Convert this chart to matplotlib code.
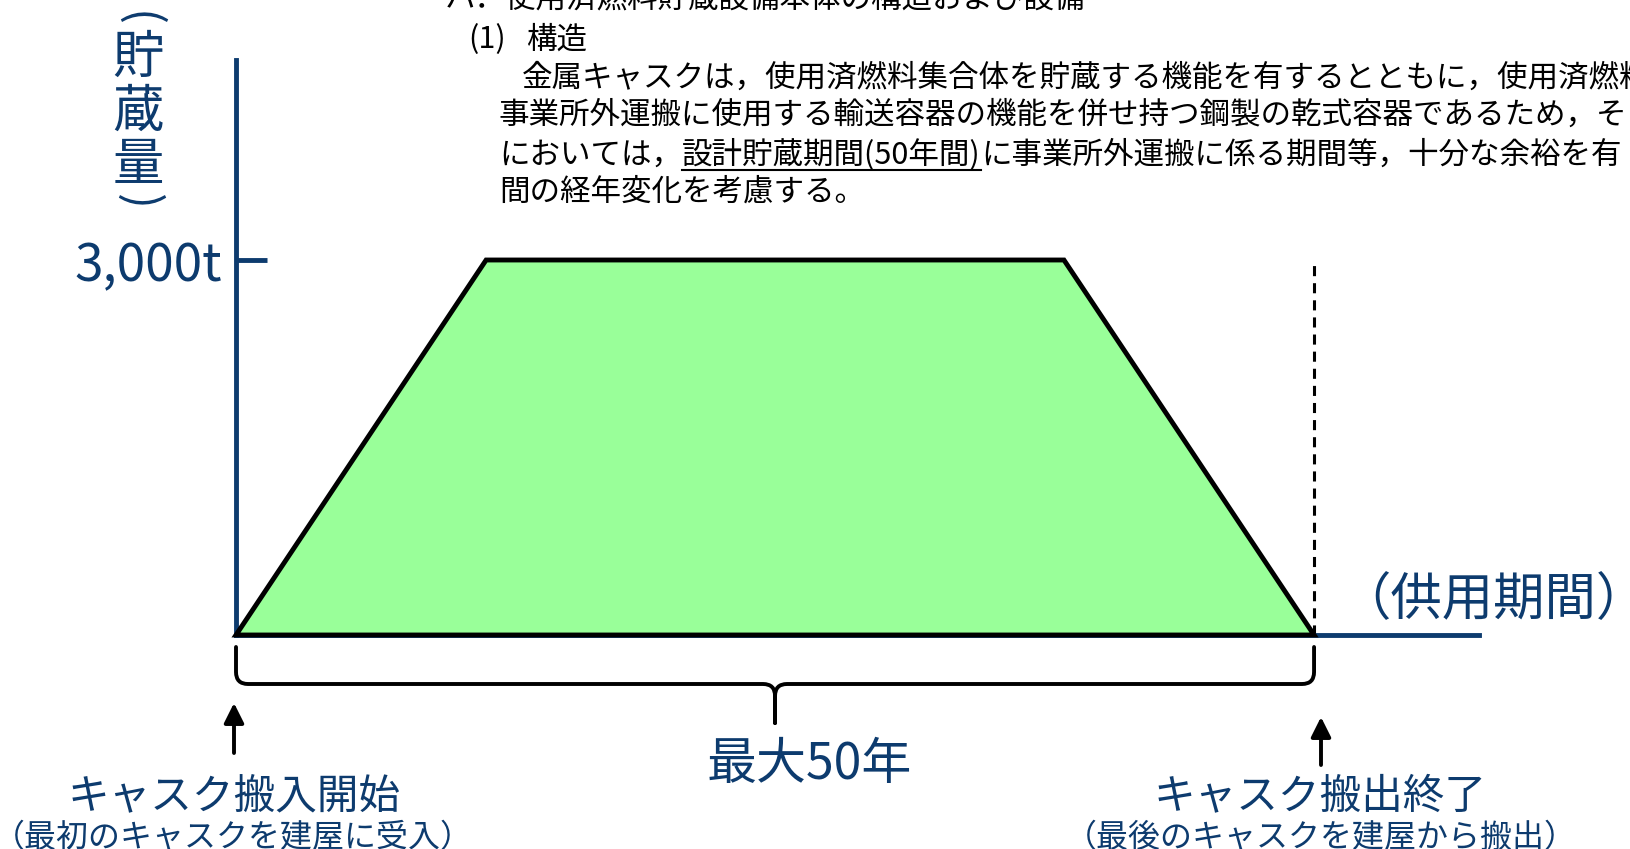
import matplotlib.pyplot as plt
from matplotlib.path import Path
from matplotlib.patches import PathPatch

plt.rcParams['font.family'] = ['Noto Sans CJK JP', 'DejaVu Sans']

# 貯蔵量の推移（概念図）: 年 と 貯蔵量(t)
years = [0, 11.6, 38.4, 50]
storage = [0, 3000, 3000, 0]
ytick_vals = [3000]
ytick_labels = ['3,000t']
x_end = 57.65      # 供用期間の矢印線の終わり
y_top = 4600

ylabel_chars = ['(', '貯', '蔵', '量', ')']
para_lines = [
    'ハ．使用済燃料貯蔵設備本体の構造および設備',
    '(1)',
    '構造',
    '金属キャスクは，使用済燃料集合体を貯蔵する機能を有するとともに，使用済燃料集',
    '事業所外運搬に使用する輸送容器の機能を併せ持つ鋼製の乾式容器であるため，そ',
]
para_line5 = ['においては，', '設計貯蔵期間(50年間)', 'に事業所外運搬に係る期間等，十分な余裕を有']
para_line6 = '間の経年変化を考慮する。'

navy = '#0d3b6e'
green = '#99ff99'

W, H = 1631, 849
fig = plt.figure(figsize=(W / 100, H / 100), dpi=100)
fig.patch.set_facecolor('white')

# メインの軸
ax = fig.add_axes([236 / W, (H - 635) / H, (1479 - 236) / W, (635 - 60) / H])
ax.set_xlim(0, x_end)
ax.set_ylim(0, y_top)
ax.fill(years, storage, facecolor=green, edgecolor='black', lw=3.5,
        joinstyle='miter', zorder=3, clip_on=False)
ax.plot([years[-1], years[-1]], [0, max(storage)], color='black', lw=2.2,
        ls=(0, (3.3, 2.3)), zorder=2)

for s in ['top', 'right']:
    ax.spines[s].set_visible(False)
for s in ['left', 'bottom']:
    ax.spines[s].set_color(navy)
    ax.spines[s].set_linewidth(3.5)
ax.set_xticks([])
ax.set_yticks(ytick_vals)
ax.set_yticklabels(ytick_labels)
ax.tick_params(axis='y', direction='in', length=22, width=3.5, color=navy,
               labelcolor=navy, labelsize=37, pad=10)

# 注記用のピクセル座標の軸
ov = fig.add_axes([0, 0, 1, 1])
ov.set_xlim(0, W)
ov.set_ylim(H, 0)
ov.axis('off')

# 縦書きの軸ラベル（括弧は回転させる）
for ch, y in zip(ylabel_chars, [19, 58, 112, 165, 202]):
    if ch in '()':
        ov.text(138, y, ch, color=navy, fontsize=34, ha='center', va='center',
                rotation=-90, rotation_mode='anchor')
    else:
        ov.text(138, y, ch, color=navy, fontsize=37, ha='center', va='center')

# 中括弧
x0 = ax.transData.transform((years[0], 0))[0]
x1 = ax.transData.transform((years[-1], 0))[0]
xm = (x0 + x1) / 2
yt, yb, ytip, r = 647, 684, 723, 12
verts, codes = [], []
for xe, sgn in [(x0, 1), (x1, -1)]:
    verts += [(xe, yt), (xe, yb - r), (xe, yb), (xe + sgn * r, yb),
              (xm - sgn * r, yb), (xm, yb), (xm, yb + r), (xm, ytip)]
    codes += [Path.MOVETO, Path.LINETO, Path.CURVE3, Path.CURVE3,
              Path.LINETO, Path.CURVE3, Path.CURVE3, Path.LINETO]
ov.add_patch(PathPatch(Path(verts, codes), fill=False, lw=2.8, color='black',
                       capstyle='round'))
ov.text(809, 765, '最大50年', color=navy, fontsize=36, ha='center', va='center')

# 矢印
arrow = dict(arrowstyle='-|>,head_length=0.6,head_width=0.3', color='black',
             lw=2.8, mutation_scale=20, shrinkA=0, shrinkB=0)
ov.annotate('', xy=(234, 703), xytext=(234, 753), arrowprops=arrow)
ov.annotate('', xy=(1321, 717), xytext=(1321, 765), arrowprops=arrow)

ov.text(234, 797, 'キャスク搬入開始', color=navy, fontsize=30, ha='center', va='center')
ov.text(233, 838, '（最初のキャスクを建屋に受入）', color=navy, fontsize=23, ha='center', va='center')
ov.text(1320, 797, 'キャスク搬出終了', color=navy, fontsize=30, ha='center', va='center')
ov.text(1321, 838, '（最後のキャスクを建屋から搬出）', color=navy, fontsize=23, ha='center', va='center')
ov.text(1493, 600, '（供用期間）', color=navy, fontsize=37, ha='center', va='center')

# 本文
fs = 22
for txt, (x, y) in zip(para_lines, [(445, -1), (468, 40), (526, 40), (522, 78), (499, 115)]):
    ov.text(x, y, txt, color='black', fontsize=fs, ha='left', va='center')
ov.text(499, 192, para_line6, color='black', fontsize=fs, ha='left', va='center')

fig.canvas.draw()
rend = fig.canvas.get_renderer()
x = 499
for i, part in enumerate(para_line5):
    t = ov.text(x, 155, part, color='black', fontsize=fs, ha='left', va='center')
    bb = t.get_window_extent(rend)
    if i == 1:
        ov.plot([bb.x0, bb.x1], [170, 170], color='black', lw=1.5)
    x = bb.x1

fig.savefig('out.png', dpi=100)
